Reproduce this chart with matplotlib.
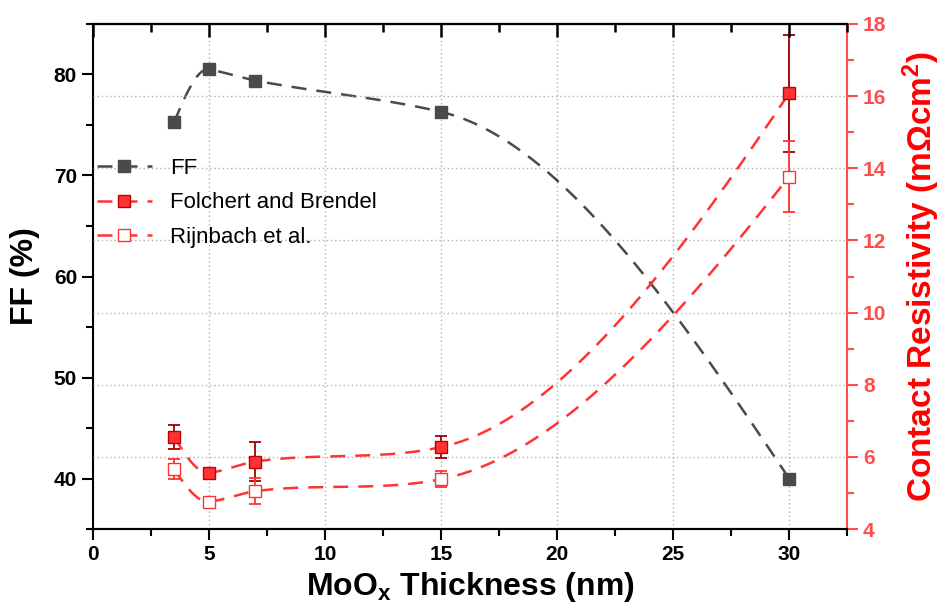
import numpy as np
import matplotlib
matplotlib.use("Agg")
import matplotlib.pyplot as plt
from matplotlib.ticker import MultipleLocator
from matplotlib.lines import Line2D

plt.rcParams['font.family'] = ['Liberation Sans', 'DejaVu Sans']
plt.rcParams['mathtext.fontset'] = 'custom'
plt.rcParams['mathtext.rm'] = 'Liberation Sans:bold'
plt.rcParams['mathtext.bf'] = 'Liberation Sans:bold'
plt.rcParams['mathtext.it'] = 'Liberation Sans:bold'
plt.rcParams['mathtext.default'] = 'bf'

# ---- data ----
thickness = [3.5, 5, 7, 15, 30]
ff = [75.3, 80.5, 79.4, 76.3, 40.0]
folchert = [6.56, 5.56, 5.87, 6.27, 16.08]
folchert_err = [0.33, 0.10, 0.53, 0.30, 1.62]
rijnbach = [5.66, 4.76, 5.05, 5.38, 13.77]
rijnbach_err = [0.27, 0.08, 0.36, 0.22, 0.98]
labels = ["FF", "Folchert and Brendel", "Rijnbach et al."]


def akima(x, y, xs):
    """Akima interpolation through the data points (smooth connecting line)."""
    x = np.asarray(x, float); y = np.asarray(y, float)
    s = np.diff(y) / np.diff(x)
    s = np.concatenate([[3 * s[0] - 2 * s[1], 2 * s[0] - s[1]], s,
                        [2 * s[-1] - s[-2], 3 * s[-1] - 2 * s[-2]]])
    m = np.empty(len(x))
    for i in range(len(x)):
        w1 = abs(s[i + 3] - s[i + 2]); w2 = abs(s[i + 1] - s[i])
        m[i] = (s[i + 1] + s[i + 2]) / 2 if w1 + w2 == 0 else (w1 * s[i + 1] + w2 * s[i + 2]) / (w1 + w2)
    idx = np.clip(np.searchsorted(x, xs) - 1, 0, len(x) - 2)
    h = x[idx + 1] - x[idx]
    t = (xs - x[idx]) / h
    h00 = 2 * t**3 - 3 * t**2 + 1; h10 = t**3 - 2 * t**2 + t
    h01 = -2 * t**3 + 3 * t**2; h11 = t**3 - t**2
    return h00 * y[idx] + h10 * h * m[idx] + h01 * y[idx + 1] + h11 * h * m[idx + 1]


pos = [0.0987, 0.1356, 0.8006, 0.8252]
fig = plt.figure(figsize=(9.42, 6.12), dpi=100)
ax = fig.add_axes(pos)
ax2 = ax.twinx()

gray = '#4a4a4a'
red = '#ff3333'
dark_red = '#a00000'
axis_red = '#ff4d4d'

xs = np.linspace(thickness[0], thickness[-1], 400)
dash = (6, 4)

ax.plot(xs, akima(thickness, ff, xs), color=gray, lw=1.8, dashes=dash, zorder=2)
ax.plot(thickness, ff, 's', color=gray, ms=9, zorder=3)

ax2.plot(xs, akima(thickness, folchert, xs), color=red, lw=1.8, dashes=dash, zorder=2)
ax2.plot(xs, akima(thickness, rijnbach, xs), color=red, lw=1.8, dashes=dash, zorder=2)
ax2.errorbar(thickness, folchert, yerr=folchert_err, fmt='s', color=red, mfc=red, mec='#c00000',
             ecolor=dark_red, elinewidth=1.3, capsize=4.5, capthick=1.3, ms=9, zorder=4)
ax2.errorbar(thickness, rijnbach, yerr=rijnbach_err, fmt='s', color=red, mfc='white', mec=red,
             ecolor=red, elinewidth=1.3, capsize=4.5, capthick=1.3, ms=9, zorder=4)

# legend
h1 = Line2D([], [], color=gray, lw=1.8, dashes=dash, marker='s', ms=9)
h2 = Line2D([], [], color=red, lw=1.8, dashes=dash, marker='s', ms=9, mfc=red, mec='#c00000')
h3 = Line2D([], [], color=red, lw=1.8, dashes=dash, marker='s', ms=9, mfc='white', mec=red)
ax2.legend([h1, h2, h3], labels, loc='upper left', bbox_to_anchor=(-0.007, 0.752),
           frameon=False, fontsize=16, handlelength=2.5, handletextpad=0.8,
           labelspacing=0.6, borderaxespad=0)

# limits and ticks
ax.set_xlim(0, 32.5)
ax.set_ylim(35, 85)
ax2.set_ylim(4, 18)
ax.xaxis.set_major_locator(MultipleLocator(5))
ax.xaxis.set_minor_locator(MultipleLocator(2.5))
ax.yaxis.set_major_locator(MultipleLocator(10))
ax.yaxis.set_minor_locator(MultipleLocator(5))
ax2.yaxis.set_major_locator(MultipleLocator(2))
ax2.yaxis.set_minor_locator(MultipleLocator(1))

ax.tick_params(axis='both', which='major', direction='out', length=8, width=1.5, labelsize=15)
ax.tick_params(axis='both', which='minor', direction='out', length=5, width=1.5)
for lab in ax.get_xticklabels() + ax.get_yticklabels():
    lab.set_fontweight('bold')

ax2.tick_params(axis='y', which='major', direction='out', length=8, width=1.5,
                colors=axis_red, labelsize=15)
ax2.tick_params(axis='y', which='minor', direction='out', length=5, width=1.5, colors=axis_red)
for lab in ax2.get_yticklabels():
    lab.set_fontweight('bold')

for s in ['left', 'bottom', 'top']:
    ax.spines[s].set_linewidth(1.5)
ax.spines['right'].set_visible(False)
ax2.spines['left'].set_visible(False)
for s in ['top', 'bottom']:
    ax2.spines[s].set_color('black')
    ax2.spines[s].set_linewidth(1.5)
ax2.spines['right'].set_color(axis_red)
ax2.spines['right'].set_linewidth(1.5)

# grid
ax.grid(axis='x', which='major', color='#b0b0b0', ls=(0, (1, 2)), lw=1)
ax2.grid(axis='y', which='major', color='#b0b0b0', ls=(0, (1, 2)), lw=1)
ax2.patch.set_visible(False)

# overlay axes carrying only the inward top ticks
ax3 = fig.add_axes(pos, sharex=ax, label='top-ticks')
ax3.patch.set_visible(False)
ax3.yaxis.set_visible(False)
for s in ['left', 'right', 'bottom']:
    ax3.spines[s].set_visible(False)
ax3.spines['top'].set_linewidth(1.5)
ax3.xaxis.tick_top()
ax3.tick_params(axis='x', which='both', direction='in', width=1.8, color='black',
                labeltop=False, labelbottom=False, top=True, bottom=False)
ax3.tick_params(axis='x', which='major', length=9)
ax3.tick_params(axis='x', which='minor', length=6)

ax.set_xlabel('MoO$_x$ Thickness (nm)', fontsize=23, fontweight='bold', labelpad=4)
ax.set_ylabel('FF (%)', fontsize=23, fontweight='bold', labelpad=10)
ax2.set_ylabel('Contact Resistivity (m$\\Omega$cm$^2$)', fontsize=24, fontweight='bold',
               color='#ff0000', labelpad=10)

fig.savefig('out.png', dpi=100)
